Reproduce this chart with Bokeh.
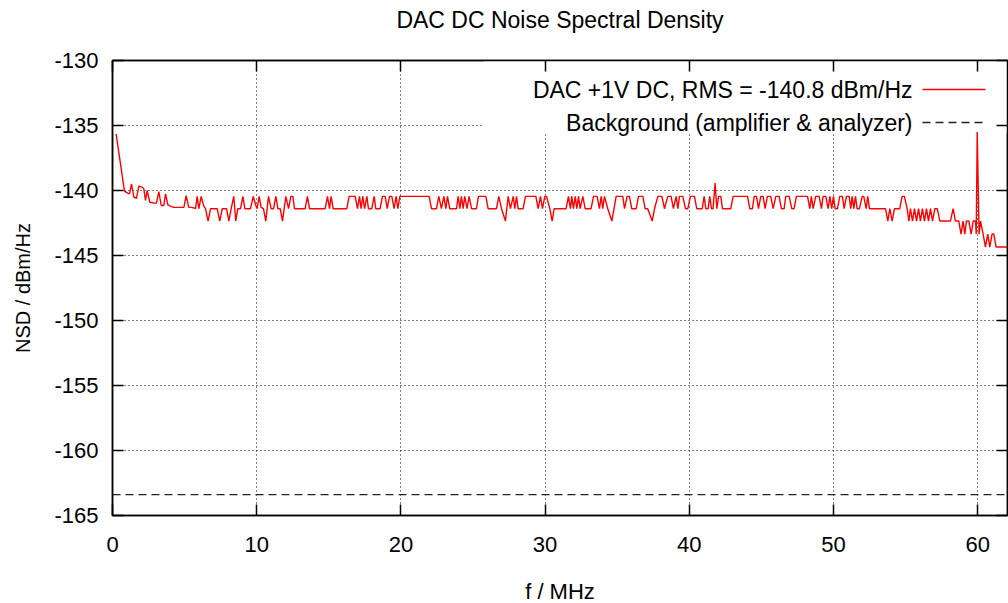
from bokeh.plotting import figure
from bokeh.models import LinearAxis, FixedTicker, Label, Arrow, BoxAnnotation, Range1d
from bokeh.embed import file_html
from bokeh.resources import INLINE

title_text = "DAC DC Noise Spectral Density"
x_label = "f / MHz"
y_label = "NSD / dBm/Hz"
x_ticks = [0, 10, 20, 30, 40, 50, 60]
y_ticks = [-165, -160, -155, -150, -145, -140, -135, -130]
dac_label = "DAC +1V DC, RMS = -140.8 dBm/Hz"
bg_label = "Background (amplifier & analyzer)"

freq_mhz = [
    0.25, 0.83, 1.06, 1.18, 1.32, 1.48, 1.66, 1.83, 2.06, 2.17, 2.29, 2.40, 2.59, 2.87, 3.05,
    3.21, 3.38, 3.56, 3.68, 3.84, 4.02, 4.25, 4.95, 5.11, 5.29, 5.52, 5.76, 5.87, 5.99, 6.15,
    6.33, 6.45, 6.63, 6.80, 7.26, 7.44, 7.61, 7.91, 8.07, 8.23, 8.41, 8.55, 8.69, 8.88, 9.04,
    9.18, 9.57, 9.76, 9.92, 10.03, 10.17,
    10.31, 10.47, 10.63, 10.82, 11.00, 11.17, 11.33, 11.47, 11.63, 11.79, 12.02, 12.21, 12.37,
    12.51, 12.62, 13.36, 13.52, 13.66, 14.75, 14.91, 15.05, 15.16, 15.30, 16.25, 16.41, 16.83,
    16.99, 17.13, 17.24, 17.36, 17.48, 17.64, 17.75, 17.98, 18.15, 18.26, 18.56, 18.72, 18.91,
    19.05, 19.21, 19.37, 19.53, 19.67, 19.79, 19.93,
    21.96, 22.12, 22.47, 22.63, 22.81, 22.98, 23.12, 23.23, 23.39, 23.86, 23.97, 24.09, 24.20,
    24.32, 24.43, 24.59, 24.73, 24.90, 25.24, 25.38, 25.89, 26.05, 26.63, 26.79, 26.98, 27.25,
    27.44, 27.60, 27.79, 27.90, 28.02, 28.13, 28.48, 28.64, 29.36, 29.52, 29.68, 29.82, 29.98,
    30.10, 30.33, 30.49, 30.63,
    31.46, 31.62, 31.76, 31.85, 31.97, 32.09, 32.20, 32.32, 32.43, 32.62, 32.78, 33.19, 33.36,
    33.61, 33.77, 33.89, 34.00, 34.12, 34.35, 34.63, 34.93, 35.39, 35.51, 35.69, 35.85, 36.01,
    36.32, 36.48, 36.78, 36.94, 37.12, 37.43, 37.59, 37.82, 38.10, 38.28, 38.51, 38.74, 38.90,
    39.09, 39.21, 39.32, 39.55, 39.74, 39.90, 40.08, 40.36, 40.52, 40.90,
    41.03, 41.15, 41.31, 41.42, 41.54, 41.65, 41.79, 41.91, 42.03, 42.19, 42.30, 42.88, 43.04,
    44.04, 44.20, 44.38, 44.50, 44.66, 44.80, 44.96, 45.12, 45.26, 45.42, 45.65, 45.82, 46.00,
    46.23, 46.39, 46.58, 46.69, 46.93, 47.11, 47.27, 47.43, 48.20, 48.36, 48.47, 48.59, 48.77,
    49.01, 49.17, 49.28, 49.47, 49.63, 49.75, 49.88, 50.00, 50.12, 50.28, 50.44, 50.62, 50.74,
    50.90, 51.09, 51.20,
    51.30, 51.41, 51.53, 51.64, 51.80, 51.99, 52.10, 52.27, 52.38, 52.50, 53.61, 53.77, 53.91,
    54.07, 54.23, 54.60, 54.76, 54.92, 55.11, 55.23, 55.34, 55.48, 55.62, 55.76, 55.90, 56.03,
    56.17, 56.31, 56.45, 56.59, 56.73, 56.87, 57.03, 57.20, 57.38, 58.11, 58.30, 58.46, 58.69,
    58.85, 58.99, 59.11, 59.22, 59.39, 59.55, 59.69, 59.85, 59.90, 59.97, 60.10, 60.20, 60.38,
    60.54, 60.70, 60.84, 61.00, 61.12, 61.28, 62.14,
]

nsd_dac = [
    -135.65, -140.05, -140.2, -140.26, -139.5, -140.5, -140.6, -139.67, -139.74, -139.87, -140.77, -140.0, -140.9, -140.97, -140.97,
    -140.08, -141.15, -141.15, -140.26, -141.1, -141.2, -141.3, -141.3, -140.4, -141.3, -141.3, -141.4, -140.45, -141.4, -140.45,
    -141.2, -141.4, -142.35, -141.4, -141.4, -142.35, -141.4, -141.4, -142.35, -141.4, -140.45, -142.35, -141.4, -141.4, -140.45,
    -141.4, -141.4, -140.45, -141.1, -141.4, -140.45,
    -141.3, -141.4, -142.35, -140.45, -141.4, -141.4, -140.45, -141.4, -141.4, -142.35, -140.45, -141.4, -140.45,
    -140.45, -141.4, -141.4, -140.45, -141.4, -141.4, -140.45, -141.4, -140.45, -141.4, -141.4, -140.45, -140.45,
    -141.4, -140.45, -141.4, -140.45, -141.4, -140.45, -141.4, -141.4, -140.45, -141.4, -141.4, -140.45, -140.45,
    -141.4, -140.45, -140.45, -141.4, -140.45, -141.4, -140.45,
    -140.45, -141.4, -141.4, -140.45, -141.4, -140.45, -141.4, -140.45, -141.4, -141.4, -140.45, -141.4, -140.45,
    -141.4, -140.45, -141.4, -140.45, -141.4, -141.4, -140.45, -140.45, -141.4, -141.4, -140.45, -141.4, -142.35,
    -140.45, -141.4, -140.45, -141.4, -140.45, -141.4, -141.4, -140.45, -140.45, -141.4, -140.45, -141.4, -140.45,
    -140.45, -141.4, -142.35, -141.4,
    -141.4, -140.45, -141.4, -140.45, -141.4, -140.45, -141.4, -140.45, -141.4, -140.45, -141.4, -141.4, -140.45,
    -140.45, -141.4, -140.45, -141.4, -140.45, -141.4, -142.35, -140.45, -140.45, -141.4, -140.45, -140.45, -141.4,
    -141.4, -140.45, -140.45, -141.4, -141.4, -142.35, -141.4, -140.45, -140.45, -141.4, -140.45, -140.45, -141.4,
    -140.45, -141.4, -140.45, -140.45, -141.4, -141.4, -140.45, -140.45, -141.4, -141.4,
    -140.45, -141.4, -141.4, -140.45, -141.4, -141.4, -139.43, -141.4, -140.45, -140.45, -141.4, -141.4, -140.45,
    -140.45, -141.4, -141.4, -140.45, -140.45, -141.4, -140.45, -140.45, -141.4, -140.45, -140.45, -141.4, -140.45,
    -140.45, -141.4, -141.4, -140.45, -140.45, -141.4, -141.4, -140.45, -140.45, -141.4, -140.45, -141.4, -140.45,
    -140.45, -141.4, -140.45, -140.45, -141.4, -140.45, -141.4, -140.45, -141.4, -141.4, -140.45, -140.45, -141.4,
    -140.45, -140.45, -141.4,
    -140.45, -141.4, -140.45, -141.4, -141.4, -140.45, -140.45, -141.4, -140.45, -141.4, -141.4, -142.35, -141.4,
    -142.35, -141.4, -141.4, -140.45, -140.45, -141.4, -142.35, -141.4, -142.35, -141.4, -142.35, -141.4, -142.35,
    -141.4, -142.35, -141.4, -142.35, -141.4, -142.35, -141.4, -141.4, -142.35, -142.35, -141.4, -142.35, -142.35,
    -143.35, -142.35, -143.35, -142.35, -142.35, -143.35, -142.35, -142.35, -143.35, -135.5, -143.35, -142.35, -143.35,
    -144.35, -143.35, -144.35, -143.35, -143.35, -144.35, -144.35,
]

bg_freq = [0.0, 62.5]
bg_nsd = [-163.4, -163.4]

FONT = "Liberation Sans"

p = figure(
    frame_width=895, frame_height=455,
    x_range=Range1d(0, 62.07), y_range=Range1d(-165, -130),
    output_backend="svg", toolbar_location=None,
    min_border_left=112, min_border_top=60, min_border_bottom=88, min_border_right=1,
    title=title_text,
)
p.background_fill_color = "white"
p.border_fill_color = "white"
p.outline_line_color = "black"
p.outline_line_width = 1.5

p.title.align = "center"
p.title.vertical_align = "bottom"
p.title.text_font = FONT
p.title.text_font_size = "23px"
p.title.text_font_style = "normal"
p.title.text_color = "black"
p.title.standoff = 0
p.title.offset = 6
p.title.padding = dict(left=0, right=0, top=0, bottom=28)

for ax in (p.xaxis[0], p.yaxis[0]):
    ax.major_tick_in = 11
    ax.major_tick_out = 0
    ax.minor_tick_line_color = None
    ax.axis_line_width = 1.5
    ax.major_tick_line_width = 1.5
    ax.major_label_text_font = FONT
    ax.major_label_text_font_size = "22px"
    ax.major_label_text_color = "black"
    ax.axis_label_text_font = FONT
    ax.axis_label_text_font_style = "normal"
    ax.axis_label_text_color = "black"

p.xaxis.ticker = FixedTicker(ticks=x_ticks)
p.yaxis.ticker = FixedTicker(ticks=y_ticks)
p.xaxis.major_label_overrides = {t: str(t) for t in x_ticks}
p.yaxis.major_label_overrides = {t: str(t) for t in y_ticks}
p.xaxis.axis_label = x_label
p.yaxis.axis_label = y_label
p.xaxis.axis_label_text_font_size = "22px"
p.yaxis.axis_label_text_font_size = "20px"
p.xaxis.major_label_standoff = 21
p.xaxis.axis_label_standoff = 24
p.yaxis.major_label_standoff = 14
p.yaxis.axis_label_standoff = 17

for side, ticks in (("above", x_ticks), ("right", y_ticks)):
    mirror = LinearAxis(
        ticker=FixedTicker(ticks=ticks),
        major_label_overrides={t: "" for t in ticks},
        major_label_text_font_size="0px",
        major_label_standoff=0,
        major_tick_in=11, major_tick_out=0,
        minor_tick_line_color=None,
        axis_line_width=1.5, major_tick_line_width=1.5,
    )
    p.add_layout(mirror, side)

p.xgrid.ticker = FixedTicker(ticks=x_ticks)
p.ygrid.ticker = FixedTicker(ticks=y_ticks)
for g in (p.xgrid[0], p.ygrid[0]):
    g.grid_line_color = "black"
    g.grid_line_alpha = 1.0
    g.grid_line_dash = "1 3"
    g.grid_line_width = 1

# opaque key box (hides the grid beneath it, like gnuplot's key)
p.add_layout(BoxAnnotation(left=371, right=895, bottom=382, top=455,
                           left_units="screen", right_units="screen",
                           bottom_units="screen", top_units="screen",
                           fill_color="white", fill_alpha=1.0, line_color=None,
                           level="underlay"))

p.line(freq_mhz, nsd_dac, line_color="#ff0000", line_width=1.4)
p.line(bg_freq, bg_nsd, line_color="#222222", line_width=1.3, line_dash="8 5")

rows = [(dac_label, 426, "#ff0000", "solid"), (bg_label, 393, "#222222", "8 5")]
for text, ys, col, dash in rows:
    p.add_layout(Label(x=800, y=ys, x_units="screen", y_units="screen", text=text,
                       text_align="right", text_baseline="middle",
                       text_font=FONT, text_font_size="23px", text_color="black"))
    p.add_layout(Arrow(end=None, x_start=810, y_start=ys, x_end=873, y_end=ys,
                       start_units="screen", end_units="screen",
                       line_color=col, line_width=1.5, line_dash=dash))

open("out.html", "w").write(file_html(p, INLINE))
